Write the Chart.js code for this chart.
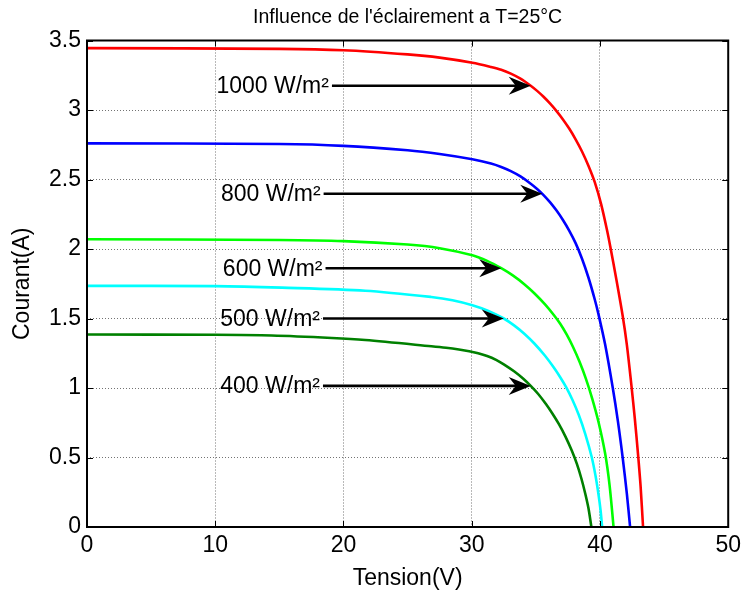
<!DOCTYPE html>
<html>
<head>
<meta charset="utf-8">
<script src="https://cdn.jsdelivr.net/npm/chart.js@4.4.1/dist/chart.umd.min.js"></script>
<style>
  html, body { margin: 0; padding: 0; background: #fff; }
  canvas { display: block; }
</style>
</head>
<body>
<canvas id="c" width="746" height="594"></canvas>
<script>
// I-V characteristics of the PV module for five irradiance levels at T = 25 °C

const irradianceLabels = ['1000 W/m²', '800 W/m²', '600 W/m²', '500 W/m²', '400 W/m²'];
const seriesColors = ['#ff0000', '#0000ff', '#00ff00', '#00ffff', '#008000'];

// Voltage (V) / current (A) samples of each curve
const v1000 = [0, 15, 20, 25, 27.5, 30.05, 31.5, 32.3, 33.05, 33.8, 34.6, 35.1, 35.6, 36.1, 36.6, 37.1, 37.6, 38.1, 38.6, 39.1, 39.6, 40.1, 40.6, 40.8, 41.3, 41.77, 42.1, 42.45, 42.72, 42.97, 43.17, 43.36];
const i1000 = [3.445, 3.44, 3.43, 3.40, 3.377, 3.34, 3.31, 3.29, 3.262, 3.226, 3.175, 3.1375, 3.095, 3.0475, 2.994, 2.934, 2.8665, 2.789, 2.7015, 2.599, 2.479, 2.319, 2.114, 2.02, 1.77, 1.52, 1.309, 1.02, 0.777, 0.52, 0.29, 0];

const v800 = [0, 15, 20, 25, 27.5, 30.05, 31.5, 32.3, 33.05, 33.8, 34.6, 35.1, 35.6, 36.1, 36.6, 37.1, 37.6, 38.1, 38.6, 39.1, 39.6, 39.9, 40.4, 41.0, 41.4, 41.77, 42.1, 42.35];
const i800 = [2.76, 2.755, 2.742, 2.71, 2.683, 2.645, 2.615, 2.59, 2.56, 2.522, 2.47, 2.432, 2.388, 2.337, 2.278, 2.21, 2.132, 2.042, 1.93, 1.795, 1.635, 1.524, 1.314, 1.0, 0.76, 0.5, 0.236, 0];

const v600 = [0, 15, 20, 25, 27.5, 30.05, 31.2, 32.3, 33.2, 34.1, 34.9, 35.7, 36.4, 36.9, 37.4, 37.9, 38.4, 38.9, 39.4, 39.9, 40.4, 40.75, 41.06];
const i600 = [2.07, 2.065, 2.057, 2.032, 2.006, 1.955, 1.915, 1.862, 1.81, 1.747, 1.68, 1.603, 1.525, 1.462, 1.385, 1.295, 1.19, 1.067, 0.922, 0.75, 0.53, 0.30, 0];

const v500 = [0, 10, 15.2, 21.7, 26.85, 28.5, 30.05, 31.3, 32.5, 33.3, 34.1, 34.9, 35.7, 36.4, 36.9, 37.35, 37.85, 38.35, 38.85, 39.35, 39.65, 39.9, 40.05, 40.17];
const i500 = [1.735, 1.733, 1.722, 1.70, 1.655, 1.632, 1.596, 1.555, 1.5, 1.4504, 1.3904, 1.3184, 1.2336, 1.1475, 1.0775, 1.0077, 0.9152, 0.8052, 0.6702, 0.5052, 0.3702, 0.2252, 0.1172, 0];

const v400 = [0, 10, 14.4, 19.1, 21.7, 26.85, 28.0, 29.0, 29.8, 30.5, 31.2, 31.9, 32.5, 33.3, 34.0, 34.6, 35.2, 35.8, 36.3, 36.8, 37.3, 37.8, 38.2, 38.55, 38.85, 39.1, 39.33];
const i400 = [1.385, 1.383, 1.378, 1.36, 1.345, 1.30, 1.289, 1.277, 1.265, 1.25, 1.23, 1.202, 1.17, 1.12, 1.068, 1.015, 0.955, 0.883, 0.815, 0.74, 0.652, 0.55, 0.454, 0.349, 0.241, 0.136, 0];

// Annotation arrows: start voltage, tip voltage and current level
const arrowTailV = [19.1, 18.45, 18.6, 18.4, 18.4];
const arrowTipV = [34.6, 35.5, 32.3, 32.5, 34.6];
const arrowI = [3.175, 2.397, 1.862, 1.5, 1.015];

const xTicks = [0, 10, 20, 30, 40, 50];
const yTicks = [0, 0.5, 1, 1.5, 2, 2.5, 3, 3.5];

const FONT = '"Liberation Sans", Arial, Helvetica, sans-serif';

const voltages = [v1000, v800, v600, v500, v400];
const currents = [i1000, i800, i600, i500, i400];

const datasets = voltages.map((vs, k) => ({
  label: irradianceLabels[k],
  data: vs.map((v, j) => ({ x: v, y: currents[k][j] })),
  borderColor: seriesColors[k],
  backgroundColor: seriesColors[k],
  borderWidth: 2.6,
  pointRadius: 0,
  fill: false,
  tension: 0.3
}));

// Axes box with inward tick marks on all four sides
const framePlugin = {
  id: 'frame',
  afterDatasetsDraw(chart) {
    const { ctx, chartArea: a, scales: { x, y } } = chart;
    ctx.save();
    ctx.strokeStyle = '#000';
    ctx.lineWidth = 1;
    ctx.beginPath();
    xTicks.forEach(t => {
      const px = Math.round(x.getPixelForValue(t)) + 0.5;
      ctx.moveTo(px, a.bottom); ctx.lineTo(px, a.bottom - 6);
      ctx.moveTo(px, a.top); ctx.lineTo(px, a.top + 6);
    });
    yTicks.forEach(t => {
      const py = Math.round(y.getPixelForValue(t)) + 0.5;
      ctx.moveTo(a.left, py); ctx.lineTo(a.left + 6, py);
      ctx.moveTo(a.right, py); ctx.lineTo(a.right - 6, py);
    });
    ctx.stroke();
    ctx.lineWidth = 2;
    ctx.strokeRect(a.left, a.top, a.right - a.left, a.bottom - a.top);
    ctx.restore();
  }
};

// Irradiance labels with arrows pointing at each curve
const arrowPlugin = {
  id: 'arrows',
  afterDatasetsDraw(chart) {
    const { ctx, scales: { x, y } } = chart;
    ctx.save();
    ctx.fillStyle = '#000';
    ctx.strokeStyle = '#000';
    ctx.lineWidth = 2.6;
    ctx.font = '23px ' + FONT;
    ctx.textAlign = 'right';
    ctx.textBaseline = 'middle';
    irradianceLabels.forEach((lab, k) => {
      const x0 = x.getPixelForValue(arrowTailV[k]);
      const x1 = x.getPixelForValue(arrowTipV[k]);
      const py = y.getPixelForValue(arrowI[k]);
      ctx.beginPath();
      ctx.moveTo(x0, py);
      ctx.lineTo(x1 - 14, py);
      ctx.stroke();
      ctx.beginPath();
      ctx.moveTo(x1, py);
      ctx.lineTo(x1 - 22, py - 9);
      ctx.lineTo(x1 - 15, py);
      ctx.lineTo(x1 - 22, py + 9);
      ctx.closePath();
      ctx.fill();
      ctx.fillText(lab, x0 - 3, py + 1);
    });
    ctx.restore();
  }
};

const tickFont = { family: FONT, size: 23 };

new Chart(document.getElementById('c'), {
  type: 'line',
  data: { datasets },
  options: {
    responsive: false,
    animation: false,
    events: [],
    layout: { padding: { left: 0, right: 14, top: 0, bottom: 0 } },
    plugins: {
      legend: { display: false },
      tooltip: { enabled: false },
      title: {
        display: true,
        fullSize: false,
        text: "Influence de l'éclairement a T=25°C",
        color: '#000',
        font: { family: FONT, size: 19.5, weight: 'normal' },
        padding: { top: 6.3, bottom: 10.8 }
      }
    },
    scales: {
      x: {
        type: 'linear',
        min: 0,
        max: 50,
        afterBuildTicks: s => { s.ticks = xTicks.map(v => ({ value: v })); },
        afterFit: s => { s.height = 67; },
        ticks: { color: '#000', font: tickFont, padding: 5, maxRotation: 0, callback: v => String(v) },
        grid: { color: 'rgba(0,0,0,0.55)', lineWidth: 1, drawTicks: false },
        border: { display: false, dash: [1, 2] },
        title: { display: true, text: 'Tension(V)', color: '#000', font: tickFont, padding: { top: 0, bottom: 2 } }
      },
      y: {
        type: 'linear',
        min: 0,
        max: 3.5,
        afterBuildTicks: s => { s.ticks = yTicks.map(v => ({ value: v })); },
        afterFit: s => { s.width = 87; },
        ticks: { color: '#000', font: tickFont, padding: 6, callback: v => String(v) },
        grid: { color: 'rgba(0,0,0,0.55)', lineWidth: 1, drawTicks: false },
        border: { display: false, dash: [1, 2] },
        title: { display: true, text: 'Courant(A)', color: '#000', font: tickFont, padding: { top: 9, bottom: 0 } }
      }
    }
  },
  plugins: [framePlugin, arrowPlugin]
});
</script>
</body>
</html>
